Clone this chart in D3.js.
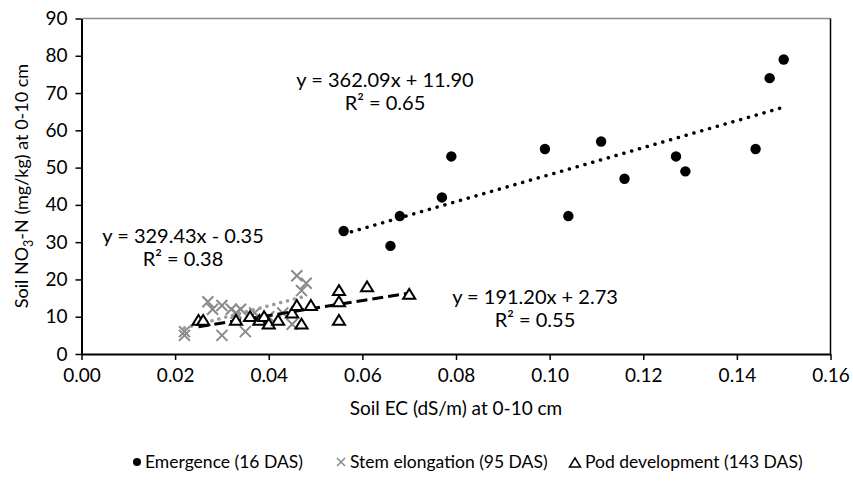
<!DOCTYPE html>
<html><head><meta charset="utf-8">
<script src="https://cdn.jsdelivr.net/npm/d3@7"></script>
<style>
html,body{margin:0;padding:0;background:#fff;}
text{font-family:Lato,"Open Sans",sans-serif;fill:#000;}
</style></head>
<body><svg id="c" width="853" height="492"></svg>
<script>
// ---- data ----
const emergenceEC = [0.056,0.066,0.068,0.077,0.079,0.099,0.104,0.111,0.116,0.127,0.129,0.144,0.147,0.150];
const emergenceN  = [33,29,37,42,53,55,37,57,47,53,49,55,74,79];
const stemEC = [0.022,0.022,0.027,0.028,0.030,0.030,0.032,0.033,0.034,0.035,0.037,0.040,0.043,0.045,0.046,0.047,0.048];
const stemN  = [6,5,14,12,13,5,12,11,12,6,11,10,11,8,21,17,19];
const podEC = [0.025,0.026,0.033,0.036,0.038,0.039,0.040,0.042,0.045,0.046,0.047,0.049,0.055,0.055,0.055,0.061,0.070];
const podN  = [9,9,9,10,9,10,8,9,11,13,8,13,17,14,9,18,16];
const xTicks = [0,0.02,0.04,0.06,0.08,0.10,0.12,0.14,0.16];
const yTicks = [0,10,20,30,40,50,60,70,80,90];
const seriesNames = ["Emergence (16 DAS)","Stem elongation (95 DAS)","Pod development (143 DAS)"];
const equations = ["y = 362.09x + 11.90","y = 329.43x - 0.35","y = 191.20x + 2.73"];
const rSquared = ["R² = 0.65","R² = 0.38","R² = 0.55"];

const svg = d3.select("#c");
const L=81.5, R=830.5, T=18.5, B=354;
const x = d3.scaleLinear().domain([0,0.16]).range([L,R]);
const y = d3.scaleLinear().domain([0,90]).range([B,T]);
const FONT = 'Lato,"Open Sans",sans-serif';

// frame (top + right)
svg.append("line").attr("x1",L).attr("x2",R).attr("y1",T).attr("y2",T).attr("stroke","#8c8c8c").attr("stroke-width",1.5);
svg.append("line").attr("x1",R).attr("x2",R).attr("y1",T).attr("y2",B).attr("stroke","#000").attr("stroke-width",1.5);

// axes
const xAxis = svg.append("g").attr("transform",`translate(0,${B})`)
  .call(d3.axisBottom(x).tickValues(xTicks).tickFormat(d3.format(".2f")).tickSizeInner(6).tickSizeOuter(0).tickPadding(9));
const yAxis = svg.append("g").attr("transform",`translate(${L},0)`)
  .call(d3.axisLeft(y).tickValues(yTicks).tickSizeInner(6).tickSizeOuter(0).tickPadding(8));
[xAxis,yAxis].forEach(g=>{
  g.select(".domain").attr("stroke","#000").attr("stroke-width",2);
  g.selectAll(".tick line").attr("stroke","#000").attr("stroke-width",1.5);
  g.selectAll(".tick text").attr("font-size",19).attr("fill","#000").style("font-family",FONT);
});

// axis titles
svg.append("text").attr("x",456).attr("y",415).attr("text-anchor","middle").attr("font-size",19)
  .text("Soil EC (dS/m) at 0-10 cm");
const yt = svg.append("text").attr("transform","translate(28,186) rotate(-90)").attr("text-anchor","middle").attr("font-size",18);
yt.append("tspan").text("Soil NO");
yt.append("tspan").text("3").attr("font-size",12.5).attr("dy",5);
yt.append("tspan").text("-N (mg/kg) at 0-10 cm").attr("dy",-5);

// regression helper
function fit(xs,ys){
  const mx=d3.mean(xs), my=d3.mean(ys);
  const b=d3.sum(xs,(v,i)=>(v-mx)*(ys[i]-my))/d3.sum(xs,v=>(v-mx)*(v-mx));
  return {b, a:my-b*mx, x0:d3.min(xs), x1:d3.max(xs)};
}
function trend(xs,ys,color,dash,cap,w){
  const f=fit(xs,ys);
  svg.append("line").attr("x1",x(f.x0)).attr("y1",y(f.a+f.b*f.x0))
    .attr("x2",x(f.x1)).attr("y2",y(f.a+f.b*f.x1))
    .attr("stroke",color).attr("stroke-width",w).attr("stroke-dasharray",dash).attr("stroke-linecap",cap);
}

// stem elongation markers (gray x)
const xPath = s=>`M${-s},${-s}L${s},${s}M${-s},${s}L${s},${-s}`;
svg.append("g").selectAll("path").data(stemEC).join("path")
  .attr("transform",(d,i)=>`translate(${x(d)},${y(stemN[i])})`)
  .attr("d",xPath(5.5)).attr("stroke","#8a8a8a").attr("stroke-width",2).attr("fill","none");

// trend lines
trend(stemEC,stemN,"#9a9a9a","0.1 7","round",3.5);
trend(podEC,podN,"#000","11 5","butt",3);
trend(emergenceEC,emergenceN,"#000","0.1 8","round",3.5);

// pod markers (triangles)
const tri = s=>`M0,${-s}L${s*1.1},${s*0.8}L${-s*1.1},${s*0.8}Z`;
svg.append("g").selectAll("path").data(podEC).join("path")
  .attr("transform",(d,i)=>`translate(${x(d)},${y(podN[i])})`)
  .attr("d",tri(5.5)).attr("stroke","#000").attr("stroke-width",2).attr("fill","#fff");

// emergence markers
svg.append("g").selectAll("circle").data(emergenceEC).join("circle")
  .attr("cx",d=>x(d)).attr("cy",(d,i)=>y(emergenceN[i])).attr("r",5.2).attr("fill","#000");

// equation labels
const eqPos = [[385,87],[183,243],[535,304]];
eqPos.forEach((p,i)=>{
  svg.append("text").attr("x",p[0]).attr("y",p[1]).attr("text-anchor","middle").attr("font-size",20).text(equations[i]);
  svg.append("text").attr("x",p[0]).attr("y",p[1]+23).attr("text-anchor","middle").attr("font-size",20).text(rSquared[i]);
});

// legend
const lg = svg.append("g");
const legX = [137,341,575], legY = 462;
lg.append("circle").attr("cx",legX[0]).attr("cy",legY).attr("r",4).attr("fill","#000");
lg.append("path").attr("transform",`translate(${legX[1]},${legY})`).attr("d",xPath(4)).attr("stroke","#8a8a8a").attr("stroke-width",1.5);
lg.append("path").attr("transform",`translate(${legX[2]},${legY+1})`).attr("d",tri(5)).attr("stroke","#000").attr("stroke-width",1.5).attr("fill","none");
const legText = [145,350,585];
seriesNames.forEach((n,i)=>{
  lg.append("text").attr("x",legText[i]).attr("y",legY+6).attr("font-size",17.5).text(n);
});
</script></body></html>
